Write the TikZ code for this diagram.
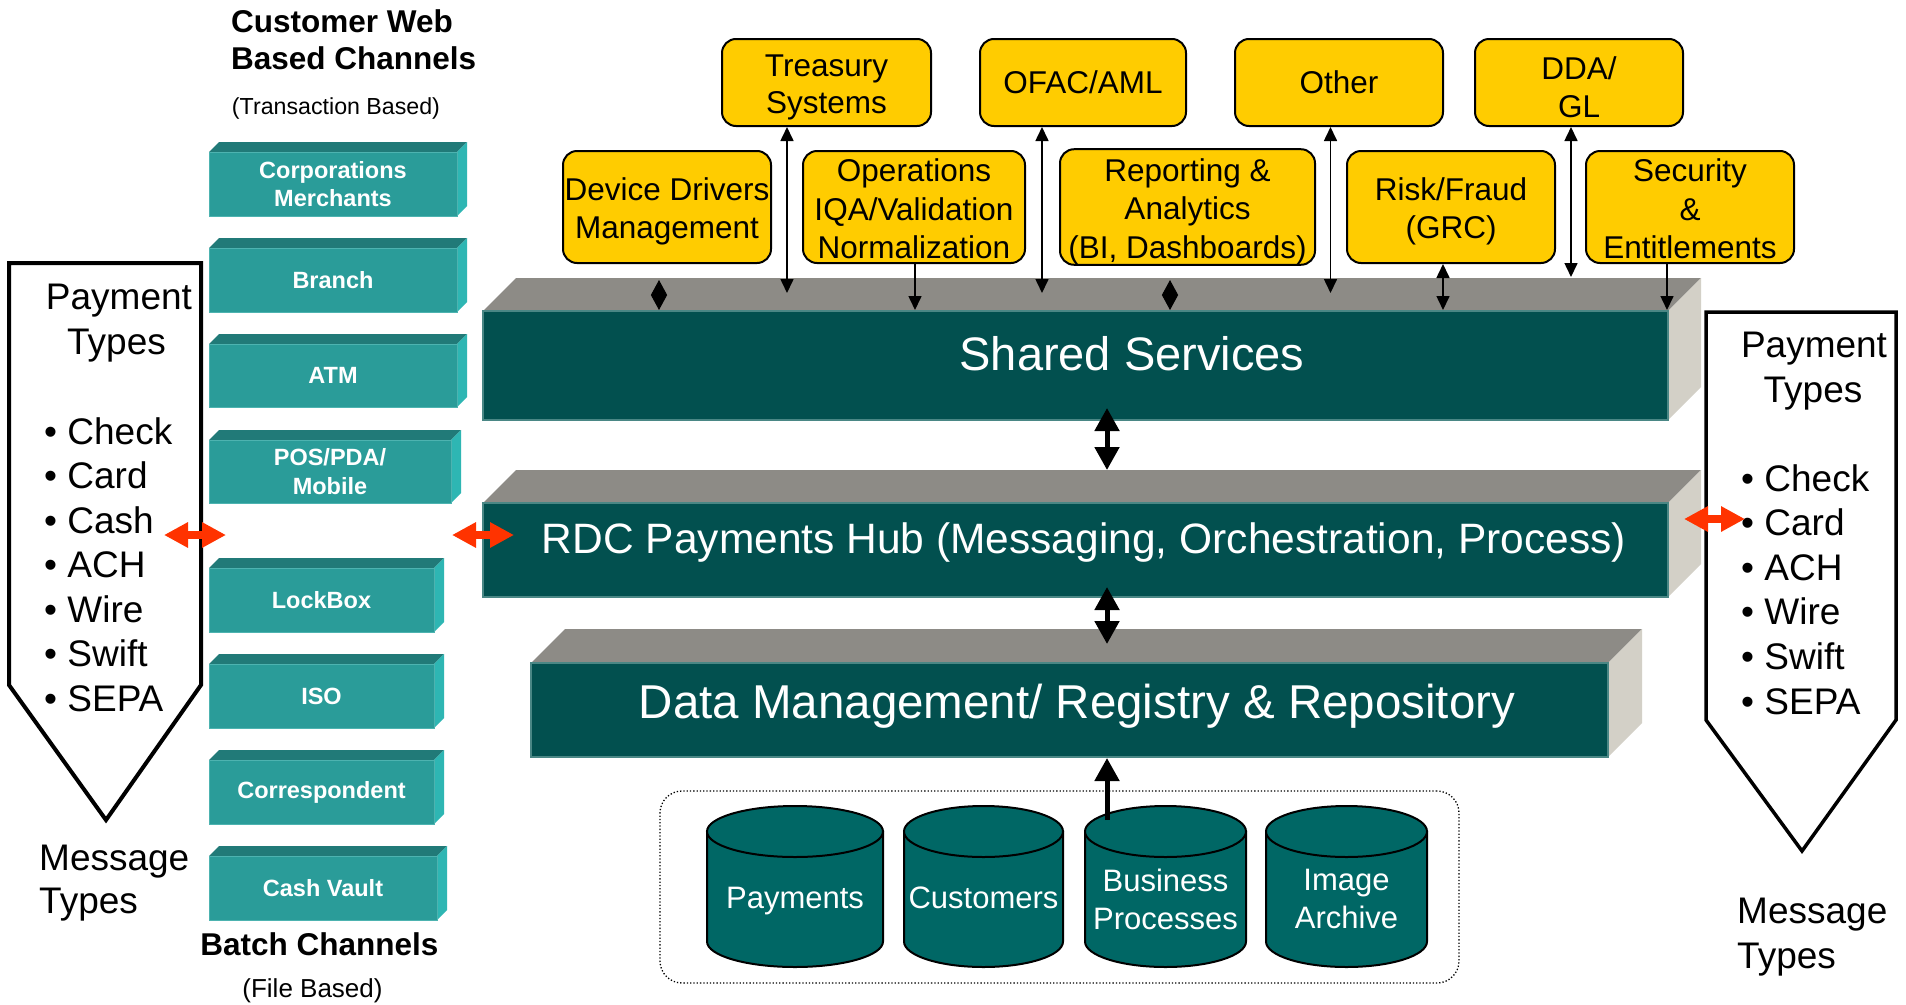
\documentclass[tikz,border=0pt]{standalone}
\usepackage{fontspec}
\setmainfont{Liberation Sans}
\usetikzlibrary{arrows.meta,fit}
\definecolor{ylw}{HTML}{FFCC00}
\definecolor{chfront}{HTML}{2A9C99}
\definecolor{chtop}{HTML}{217A78}
\definecolor{chside}{HTML}{2EB6B3}
\definecolor{chline}{HTML}{4DB3B0}
\definecolor{bkfront}{HTML}{02504F}
\definecolor{bkline}{HTML}{4A8785}
\definecolor{bktop}{HTML}{8D8B86}
\definecolor{bkside}{HTML}{D3D0C7}
\definecolor{dbteal}{HTML}{006765}
\definecolor{redarr}{HTML}{FF3300}
% #1 name, #2 x1, #3 y1 (front top), #4 x2, #5 y2 (front bottom), #6 depth, #7 colour prefix
\newcommand{\threed}[7]{%
  \fill[#7top] (#2,#3) -- (#2+#6,#3-#6) -- (#4+#6,#3-#6) -- (#4,#3) -- cycle;
  \fill[#7side] (#4,#3) -- (#4+#6,#3-#6) -- (#4+#6,#5-#6) -- (#4,#5) -- cycle;
  \node[#7fr, fit={(#2,#3) (#4,#5)}] (#1) {};
}
% #1 cx, #2 rx
\newcommand{\dbcyl}[2]{%
  \filldraw[dbst] (#1-#2,831.5) -- (#1-#2,941.5)
    .. controls (#1-#2,955.6) and (#1-0.5523*#2,967) .. (#1,967)
    .. controls (#1+0.5523*#2,967) and (#1+#2,955.6) .. (#1+#2,941.5)
    -- (#1+#2,831.5) -- cycle;
  \filldraw[dbst] (#1,831.5) ellipse [x radius=#2, y radius=25.5];
}
\newcommand{\fl}{\rule{0pt}{32pt}}
\newcommand{\flb}{\rule{0pt}{27pt}}
\begin{document}
\begin{tikzpicture}[x=1pt,y=-1pt,
  chfr/.style={fill=chfront, draw=chline, line width=1pt, inner sep=0pt},
  bkfr/.style={fill=bkfront, draw=bkline, line width=2pt, inner sep=0pt},
  chtxt/.style={text=white, font=\bfseries\fontsize{23.5}{28.5}\selectfont, align=center, inner sep=0pt},
  bktxt/.style={text=white, inner sep=0pt, anchor=base},
  ybox/.style={draw=black, line width=2pt, fill=ylw, rounded corners=14pt, inner sep=0pt,
    align=center, font=\fontsize{31.5}{37.5}\selectfont},
  lbl/.style={inner sep=0pt, font=\fontsize{37}{44}\selectfont},
  ttl/.style={inner sep=0pt, font=\bfseries\fontsize{31.5}{37}\selectfont},
  dbst/.style={fill=dbteal, draw=black, line width=2pt},
  dbtxt/.style={text=white, inner sep=0pt, align=center, font=\fontsize{31}{38}\selectfont},
  thinone/.style={line width=1.6pt, -{Triangle[length=14pt,width=13pt]}},
  thintwo/.style={line width=1.6pt, {Triangle[length=14pt,width=13pt]}-{Triangle[length=14pt,width=13pt]}},
  dia/.style={line width=1pt, {Triangle[length=15pt,width=16pt]}-{Triangle[length=15pt,width=16pt]}},
  bigone/.style={line width=5pt, -{Triangle[length=23pt,width=24pt]}},
  bigtwo/.style={line width=5pt, {Triangle[length=23pt,width=24pt]}-{Triangle[length=23pt,width=24pt]}},
  redtwo/.style={line width=8pt, draw=redarr, {Triangle[length=24pt,width=24pt]}-{Triangle[length=24pt,width=24pt]}}
]
\fill[white] (0,0) rectangle (1906,1004);
\useasboundingbox (0,0) rectangle (1906,1004);

% ---------- titles ----------
\node[ttl, anchor=base west] (t1) at (231,32.5) {Customer Web};
\node[ttl, anchor=base west] (t2) at (231,69.5) {Based Channels};
\node[inner sep=0pt, anchor=base, font=\fontsize{23.2}{27}\selectfont] (t3) at (336,114) {(Transaction Based)};
\node[ttl, anchor=base] (t4) at (319.5,955) {Batch Channels};
\node[inner sep=0pt, anchor=base, font=\fontsize{26}{30}\selectfont] (t5) at (312.5,997) {(File Based)};

% ---------- left chevron ----------
\draw[line width=4pt, fill=white, line join=miter] (9,263) -- (201,263) -- (201,685) -- (106,820) -- (9,685) -- cycle;
\node[lbl, anchor=base] (lpay) at (119,309) {Payment};
\node[lbl, anchor=base] (ltyp) at (116.5,354) {Types};
\foreach \t [count=\i] in {Check,Card,Cash,ACH,Wire,Swift,SEPA}
  \node[lbl, anchor=base west] (lb\i) at (44,444+44.5*\i-44.5) {•\ \t};
\node[lbl, anchor=base west] (lmsg) at (39,870) {Message};
\node[lbl, anchor=base west] (lmsgt) at (39,913) {Types};

% ---------- right chevron ----------
\draw[line width=3.5pt, fill=white, line join=miter] (1706,312) -- (1896,312) -- (1896,720) -- (1802,851) -- (1706,720) -- cycle;
\node[lbl, anchor=base] (rpay) at (1814,357) {Payment};
\node[lbl, anchor=base] (rtyp) at (1813,402) {Types};
\foreach \t [count=\i] in {Check,Card,ACH,Wire,Swift,SEPA}
  \node[lbl, anchor=base west] (rb\i) at (1741,491+44.6*\i-44.6) {•\ \t};
\node[lbl, anchor=base west] (rmsg) at (1737,923) {Message};
\node[lbl, anchor=base west] (rmsgt) at (1737,968) {Types};

% ---------- channel boxes ----------
\threed{corp}{209}{152}{457}{216}{10}{ch}
\node[chtxt] (corpt) at (corp.center) {Corporations\\Merchants};
\threed{branch}{209}{248}{457}{312}{10}{ch}
\node[chtxt] (brancht) at (branch.center) {Branch};
\threed{atm}{209}{344}{457}{407}{10}{ch}
\node[chtxt] (atmt) at (atm.center) {ATM};
\threed{pos}{209}{440}{451}{503}{10}{ch}
\node[chtxt] (post) at (pos.center) {POS/PDA/\\Mobile};
\threed{lock}{209}{568}{434}{632}{10}{ch}
\node[chtxt] (lockt) at (lock.center) {LockBox};
\threed{iso}{209}{664}{434}{728}{10}{ch}
\node[chtxt] (isot) at (iso.center) {ISO};
\threed{corr}{209}{760}{434}{824}{10}{ch}
\node[chtxt] (corrt) at (corr.center) {Correspondent};
\threed{cash}{209}{856}{437}{920}{10}{ch}
\node[chtxt] (casht) at (cash.center) {Cash Vault};

% ---------- big blocks ----------
\threed{ss}{483}{311}{1668}{420}{33}{bk}
\node[bktxt, font=\fontsize{47}{56}\selectfont] (sst) at (1132,370) {Shared Services};
\threed{rdc}{483}{503}{1668}{597}{33}{bk}
\node[bktxt, font=\fontsize{42.5}{50}\selectfont] (rdct) at (1084,553) {RDC Payments Hub (Messaging, Orchestration, Process)};
\threed{dm}{531}{663}{1608}{757}{34}{bk}
\node[bktxt, font=\fontsize{47.5}{56}\selectfont] (dmt) at (1077,718) {Data Management/ Registry \& Repository};

% ---------- yellow boxes ----------
\node[ybox, minimum width=209pt, minimum height=87pt] (treas) at (826.5,82.5) {\fl Treasury\\Systems};
\node[ybox, minimum width=206pt, minimum height=87pt] (ofac) at (1083,82.5) {OFAC/AML};
\node[ybox, minimum width=208pt, minimum height=87pt] (other) at (1339,82.5) {Other};
\node[ybox, minimum width=208pt, minimum height=87pt] (dda) at (1579,82.5) {\fl DDA/\\GL};
\node[ybox, minimum width=208pt, minimum height=112pt, font=\fontsize{31.5}{38.5}\selectfont] (dev) at (667,207) {\fl Device Drivers\\Management};
\node[ybox, minimum width=222pt, minimum height=112pt, font=\fontsize{31.5}{38.5}\selectfont] (ops) at (914,207) {\flb Operations\\IQA/Validation\\Normalization};
\node[ybox, minimum width=255pt, minimum height=112pt, font=\fontsize{31.5}{38.5}\selectfont] (rep) at (1187.5,207) {\fl Reporting \&\\Analytics\\(BI, Dashboards)};
\node[ybox, minimum width=208pt, minimum height=112pt, font=\fontsize{31.5}{38.5}\selectfont] (risk) at (1451,207) {\fl Risk/Fraud\\(GRC)};
\node[ybox, minimum width=208pt, minimum height=112pt, font=\fontsize{31.5}{38.5}\selectfont] (sec) at (1690,207) {\flb Security\\\&\\Entitlements};

% ---------- thin connectors ----------
\coordinate (treasEnd) at (787,293);
\coordinate (ofacEnd) at (1042,293);
\coordinate (otherEnd) at (1330.5,293);
\coordinate (ddaEnd) at (1571,277);
\draw[thintwo] ([xshift=-39.5pt]treas.south) -- (treasEnd);
\draw[thintwo] ([xshift=-41pt]ofac.south) -- (ofacEnd);
\draw[thintwo] ([xshift=-8.5pt]other.south) -- (otherEnd);
\draw[thintwo] ([xshift=-8pt]dda.south) -- (ddaEnd);
\draw[thinone] ([xshift=1pt]ops.south) -- ([xshift=1pt]ops.south |- ss.north);
\draw[thintwo] ([xshift=-8pt]risk.south) -- ([xshift=-8pt]risk.south |- ss.north);
\draw[thinone] ([xshift=-23pt]sec.south) -- ([xshift=-23pt]sec.south |- ss.north);
\coordinate (devA) at (659,280);
\coordinate (repA) at (1170,280);
\draw[dia] (devA) -- (devA |- ss.north);
\draw[dia] (repA) -- (repA |- ss.north);

% ---------- block connectors ----------
\coordinate (ssB) at (1107,408);
\coordinate (rdcT) at (1107,470);
\coordinate (rdcB) at (1107,587);
\coordinate (dmT) at (1107,644);
\draw[bigtwo] (ssB) -- (rdcT);
\draw[bigtwo] (rdcB) -- (dmT);

% ---------- red arrows ----------
\coordinate (r1a) at (164,535); \coordinate (r1b) at (226,535);
\coordinate (r2a) at (452,535); \coordinate (r2b) at (514,535);
\coordinate (r3a) at (1684,519); \coordinate (r3b) at (1745,519);
\draw[redtwo] (r1a) -- (r1b);
\draw[redtwo] (r2a) -- (r2b);
\draw[redtwo] (r3a) -- (r3b);

% ---------- databases ----------
\node[draw, dotted, line width=1.3pt, rounded corners=22pt, inner sep=0pt, fit={(660,791) (1459,983)}] (dbgroup) {};
\dbcyl{795}{88}
\dbcyl{983.5}{79.5}
\dbcyl{1165.5}{80.5}
\dbcyl{1346.5}{80.5}
\node[dbtxt, anchor=base] (db1) at (795,908) {Payments};
\node[dbtxt, anchor=base] (db2) at (983.5,908) {Customers};
\node[dbtxt] (db3) at (1165.5,899) {Business\\Processes};
\node[dbtxt] (db4) at (1346.5,899) {Image\\Archive};
\coordinate (busTop) at (1107,820);
\draw[bigone] (busTop) -- (busTop |- dm.south);
\end{tikzpicture}
\end{document}
